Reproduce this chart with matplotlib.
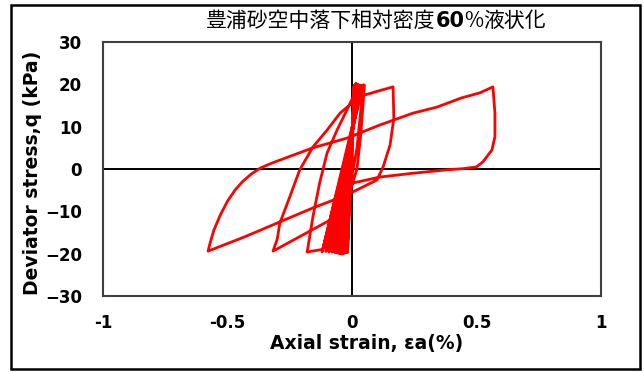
import matplotlib
matplotlib.use('Agg')
import matplotlib.pyplot as plt
from matplotlib.patches import Rectangle

# cyclic triaxial test record: axial strain (%) and deviator stress q (kPa)
strain = [
    0.000,
    0.008, -0.018, 0.010, -0.024, 0.012, -0.030, 0.014, -0.036,
    0.016, -0.042, 0.018, -0.048, 0.020, -0.054, 0.023, -0.062,
    0.026, -0.070, 0.029, -0.080, 0.033, -0.092, 0.037, -0.105,
    0.040, -0.120,
    # cycle with extension peak near -0.18
    0.046, 0.020, -0.020, -0.070, -0.120, -0.180,
    -0.157, -0.130, -0.100, -0.060, -0.020, 0.004, 0.050,
    # cycle with extension peak near -0.31
    0.035, 0.020, -0.036, -0.317,
    -0.300, -0.290, -0.250, -0.210, -0.157, -0.100, -0.048, 0.004, 0.052, 0.110, 0.165,
    0.168, 0.153, 0.125, 0.100, -0.020, -0.157, -0.290, -0.430, -0.578,
    # last large loop
    -0.570, -0.555, -0.530, -0.500, -0.470, -0.440, -0.405, -0.369, -0.330, -0.290,
    -0.157, -0.020, 0.112, 0.245, 0.340, 0.440, 0.514, 0.566,
    0.574, 0.574, 0.562, 0.526, 0.500, 0.450, 0.380, 0.245, 0.112, 0.004, -0.010,
]
stress = [
    0.0,
    19.6, -19.7, 19.8, -19.8, 19.9, -19.9, 20.1, -20.0,
    20.2, -20.1, 20.1, -20.0, 20.0, -19.9, 19.9, -19.8,
    19.9, -19.7, 19.8, -19.6, 19.8, -19.6, 19.7, -19.5,
    19.7, -19.6,
    19.9, 5.0, -8.0, -16.0, -19.0, -19.6,
    -11.3, -3.3, 3.8, 9.2, 14.0, 17.0, 19.8,
    8.0, 0.0, -10.4, -19.4,
    -16.5, -12.8, -6.6, -0.2, 5.2, 9.2, 13.2, 15.8, 17.5, 18.5, 19.4,
    12.0, 5.7, 0.5, -2.6, -6.1, -9.2, -12.5, -16.0, -19.4,
    -17.5, -14.5, -11.0, -7.6, -5.0, -3.0, -1.2, 0.2, 1.2, 2.1,
    5.0, 7.3, 10.4, 13.2, 14.6, 16.8, 18.0, 19.4,
    13.2, 7.6, 4.5, 1.7, 0.5, 0.1, -0.2, -1.0, -1.9, -3.3, -4.5,
]

x_ticks = [-1, -0.5, 0, 0.5, 1]
x_tick_labels = ['-1', '-0.5', '0', '0.5', '1']
y_ticks = [-30, -20, -10, 0, 10, 20, 30]

W, H = 644, 372
fig = plt.figure(figsize=(W / 100, H / 100), dpi=100)

# chart border
fig.add_artist(Rectangle((11 / W, 3 / H), 629 / W, 364 / H, transform=fig.transFigure,
                         fill=False, ec='black', lw=1.8))

ax = fig.add_axes([103 / W, 76 / H, 498 / W, 254 / H])
ax.plot(strain, stress, color='#ff0000', lw=2.0, solid_joinstyle='round',
        solid_capstyle='round', zorder=3)
ax.axhline(0, color='black', lw=1.4, zorder=2)
ax.axvline(0, color='black', lw=1.4, zorder=2)

ax.set_xlim(-1, 1)
ax.set_ylim(-30, 30)
ax.set_xticks(x_ticks)
ax.set_xticklabels(x_tick_labels)
ax.set_yticks(y_ticks)
ax.tick_params(axis='both', length=0, labelsize=12)
ax.tick_params(axis='x', pad=13)
ax.tick_params(axis='y', pad=15)
for lbl in ax.get_xticklabels() + ax.get_yticklabels():
    lbl.set_fontweight('bold')
for sp in ax.spines.values():
    sp.set_color('#404040')
    sp.set_linewidth(1.5)

fig.text(367 / W, 1 - 344 / H, 'Axial strain, εa(%)', fontsize=13.5, fontweight='bold',
         ha='center', va='center')
fig.text(33 / W, 1 - 173 / H, 'Deviator stress,q (kPa)', fontsize=13.5, fontweight='bold',
         rotation=90, ha='center', va='center')

# title with a bold "60" in the middle
title_parts = ['豊浦砂空中落下相対密度', '60', '%', '液状化']
title_bold = [False, True, False, False]
renderer = fig.canvas.get_renderer()
pieces = []
for part, bold in zip(title_parts, title_bold):
    fam = ['DejaVu Sans'] if bold else ['Noto Sans CJK JP', 'DejaVu Sans']
    t = fig.text(0, 1 - 27 / H, part, fontsize=15, family=fam,
                 fontweight='bold' if bold else 'normal', va='baseline', ha='left')
    pieces.append(t)
widths = [t.get_window_extent(renderer).width for t in pieces]
x = 376 - sum(widths) / 2
for t, w in zip(pieces, widths):
    t.set_x(x / W)
    x += w

fig.savefig('out.png', dpi=100)
